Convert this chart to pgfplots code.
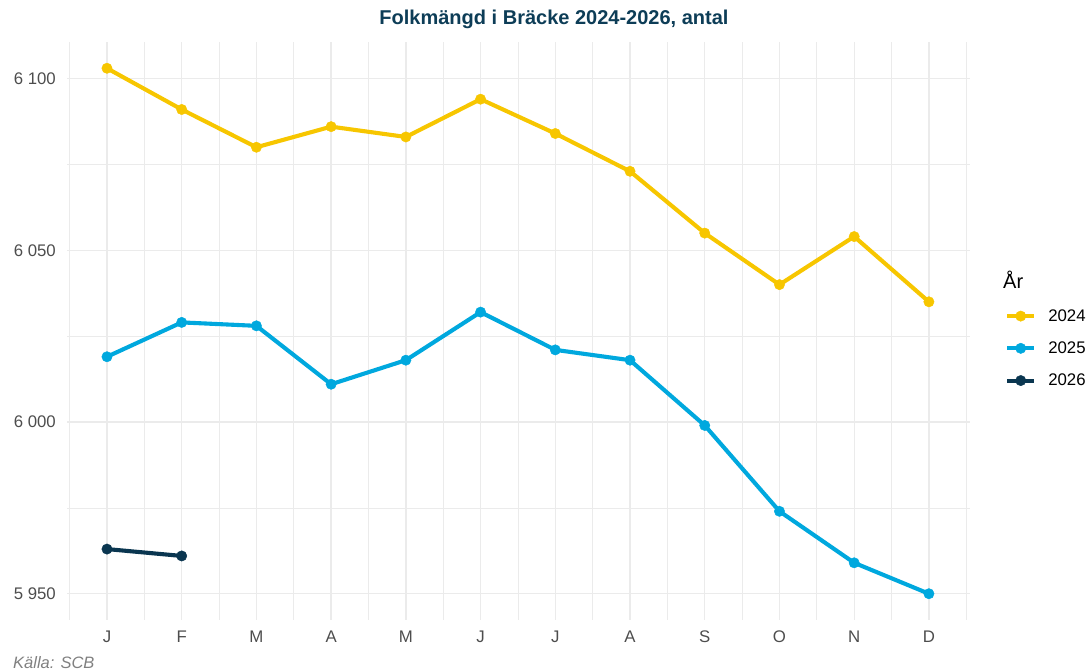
\documentclass[border=0pt]{standalone}
\usepackage{fontspec}
\setmainfont{Liberation Sans}
\usepackage{pgfplots}
\pgfplotsset{compat=1.18}
\definecolor{c24}{HTML}{F7C600}
\definecolor{c25}{HTML}{00A8DE}
\definecolor{c26}{HTML}{0A3650}
\definecolor{titlec}{HTML}{0D3D57}
\definecolor{gridc}{HTML}{EBEBEB}
\definecolor{tickc}{HTML}{4D4D4D}
\pgfplotsset{myline/.style={#1, line width=4.1pt, mark=*, mark size=5.2pt, mark options={#1, solid, line width=0.4pt}}}
\begin{document}
\begin{tikzpicture}[x=1pt,y=1pt]
\path[use as bounding box] (0,0) rectangle (1088,672);
\begin{axis}[at={(67pt,52pt)}, anchor=south west, scale only axis,
  width=903pt, height=578pt,
  xmin=0.465, xmax=12.55, ymin=5942.35, ymax=6110.65,
  xtick={1,...,12}, xticklabels={J,F,M,A,M,J,J,A,S,O,N,D},
  minor xtick={0.5,1.5,...,12.5},
  ytick={5950,6000,6050,6100}, yticklabels={5 950,6 000,6 050,6 100},
  minor ytick={5975,6025,6075},
  grid=both,
  major grid style={draw=gridc, line width=1.3pt},
  minor grid style={draw=gridc, line width=0.7pt},
  axis line style={draw=none}, major tick length=0pt, minor tick length=0pt,
  tick label style={font=\fontsize{16.8}{18}\selectfont, text=tickc},
  yticklabel style={inner sep=0pt, xshift=-11pt},
  xticklabel style={inner sep=0pt, yshift=-11pt},
  legend style={at={(1,0.47)}, anchor=west, xshift=35pt, draw=none, fill=none,
    font=\fontsize{16.8}{18}\selectfont, row sep=19pt, inner sep=0pt,
    nodes={inner sep=0pt, text=black}},
  legend cell align=left,
  legend image code/.code={\draw[mark repeat=2,mark phase=2,#1] plot coordinates {(0pt,0pt)(13.5pt,0pt)(27pt,0pt)};},
]
\addplot[myline=c24] coordinates {
(1,6103)(2,6091)(3,6080)(4,6086)(5,6083)(6,6094)(7,6084)(8,6073)(9,6055)(10,6040)(11,6054)(12,6035)};
\addlegendentry{\hspace{12pt}2024}
\addplot[myline=c25] coordinates {
(1,6019)(2,6029)(3,6028)(4,6011)(5,6018)(6,6032)(7,6021)(8,6018)(9,5999)(10,5974)(11,5959)(12,5950)};
\addlegendentry{\hspace{12pt}2025}
\addplot[myline=c26] coordinates {
(1,5963)(2,5961)};
\addlegendentry{\hspace{12pt}2026}
\end{axis}
\node[anchor=west, inner sep=0pt, font=\fontsize{20}{22}\selectfont] at (1003,392) {År};
\node[anchor=center, inner sep=0pt, font=\fontsize{20}{22}\selectfont\bfseries, text=titlec] at (554,653) {Folkmängd i Bräcke 2024-2026, antal};
\node[anchor=west, inner sep=0pt, font=\fontsize{16.5}{18}\selectfont\itshape, text=gray] at (13,9) {Källa: SCB};
\end{tikzpicture}
\end{document}
